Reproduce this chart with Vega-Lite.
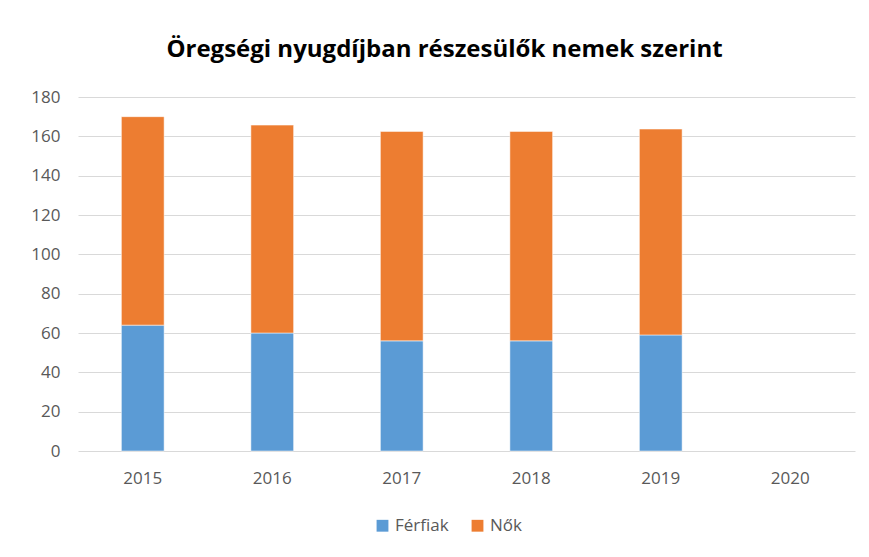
{
  "$schema": "https://vega.github.io/schema/vega-lite/v6.json",
  "width": 777,
  "height": 354,
  "autosize": {"type": "none"},
  "padding": {"left": 78, "top": 97, "right": 14, "bottom": 106},
  "background": "white",
  "title": {
    "text": "Öregségi nyugdíjban  részesülők nemek szerint",
    "font": "Open Sans",
    "fontSize": 24,
    "fontWeight": "bold",
    "color": "#000000",
    "anchor": "middle",
    "dx": -22,
    "offset": 26
  },
  "data": {
    "values": [
      {"ev": "2015", "nem": "Férfiak", "ertek": 64},
      {"ev": "2015", "nem": "Nők", "ertek": 106},
      {"ev": "2016", "nem": "Férfiak", "ertek": 60},
      {"ev": "2016", "nem": "Nők", "ertek": 105.7},
      {"ev": "2017", "nem": "Férfiak", "ertek": 56},
      {"ev": "2017", "nem": "Nők", "ertek": 106.5},
      {"ev": "2018", "nem": "Férfiak", "ertek": 56},
      {"ev": "2018", "nem": "Nők", "ertek": 106.5},
      {"ev": "2019", "nem": "Férfiak", "ertek": 59},
      {"ev": "2019", "nem": "Nők", "ertek": 104.7}
    ]
  },
  "mark": {"type": "bar", "stroke": "white", "strokeWidth": 0.5},
  "encoding": {
    "x": {
      "field": "ev",
      "type": "nominal",
      "scale": {"domain": ["2015", "2016", "2017", "2018", "2019", "2020"], "paddingInner": 0.67, "paddingOuter": 0.335},
      "axis": {
        "title": null,
        "labelAngle": 0,
        "labelFont": "Open Sans",
        "labelFontSize": 17,
        "labelColor": "#595959",
        "ticks": false,
        "domain": false,
        "labelPadding": 19
      }
    },
    "y": {
      "field": "ertek",
      "type": "quantitative",
      "stack": "zero",
      "scale": {"domain": [0, 180], "nice": false},
      "axis": {
        "title": null,
        "values": [0, 20, 40, 60, 80, 100, 120, 140, 160, 180],
        "labelFont": "Open Sans",
        "labelFontSize": 17,
        "labelColor": "#595959",
        "ticks": false,
        "domain": false,
        "labelPadding": 18,
        "gridColor": "#d9d9d9",
        "gridWidth": 1
      }
    },
    "color": {
      "field": "nem",
      "type": "nominal",
      "scale": {"domain": ["Férfiak", "Nők"], "range": ["#5b9bd5", "#ed7d31"]},
      "legend": {
        "title": null,
        "orient": "none",
        "legendX": 296,
        "legendY": 420,
        "direction": "horizontal",
        "symbolType": "square",
        "symbolSize": 140,
        "symbolStrokeWidth": 0,
        "labelFont": "Open Sans",
        "labelFontSize": 17,
        "labelColor": "#595959",
        "columnPadding": 20
      }
    },
    "order": {"field": "nem", "sort": "ascending"}
  },
  "config": {"view": {"stroke": null}}
}
